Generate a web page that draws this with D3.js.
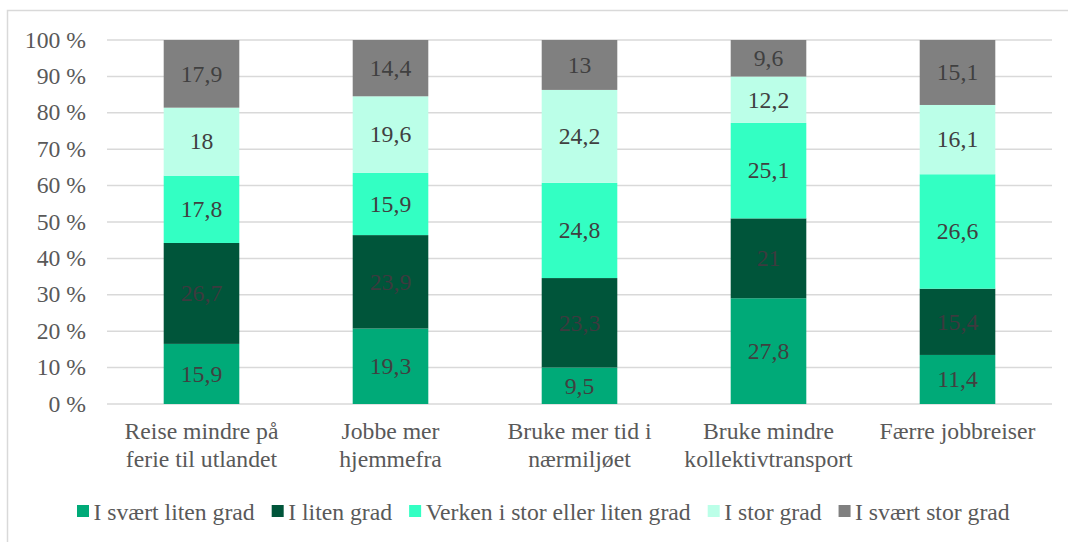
<!DOCTYPE html>
<meta charset="utf-8">
<script src="https://cdn.jsdelivr.net/npm/d3@7"></script>
<style>
body { margin: 0; background: #fff; }
</style>
<body>
<script>

// categories (two-line labels)
var categories = [
  ["Reise mindre på", "ferie til utlandet"],
  ["Jobbe mer", "hjemmefra"],
  ["Bruke mer tid i", "nærmiljøet"],
  ["Bruke mindre", "kollektivtransport"],
  ["Færre jobbreiser"]
];
var seriesNames = ["I svært liten grad", "I liten grad", "Verken i stor eller liten grad", "I stor grad", "I svært stor grad"];
var colors = ["#00aa78", "#00553a", "#33ffc3", "#bbffe8", "#808080"];
var labelColors = ["#404040", "#3d3a3f", "#404040", "#404040", "#404040"];

var sSvaertLiten = [15.9, 19.3, 9.5, 27.8, 11.4];
var sLiten = [26.7, 23.9, 23.3, 21, 15.4];
var sVerken = [17.8, 15.9, 24.8, 25.1, 26.6];
var sStor = [18, 19.6, 24.2, 12.2, 16.1];
var sSvaertStor = [17.9, 14.4, 13, 9.6, 15.1];
var yTicks = [0, 10, 20, 30, 40, 50, 60, 70, 80, 90, 100];

var seriesVals = [sSvaertLiten, sLiten, sVerken, sStor, sSvaertStor];

var width = 1068, height = 542;
var margin = {left: 107, right: 16, top: 40, bottom: 138};
var FONT = "Liberation Serif";
var FS = 23.7;

var svg = d3.select("body").append("svg")
    .attr("width", width)
    .attr("height", height)
    .attr("font-family", FONT);

// chart border
svg.append("rect")
    .attr("x", 7.5).attr("y", 10.5)
    .attr("width", 1080).attr("height", 560)
    .attr("fill", "none")
    .attr("stroke", "#d9d9d9")
    .attr("stroke-width", 1.5);

var rows = categories.map(function(c, i) {
  var row = {idx: i};
  var total = d3.sum(seriesVals, function(s) { return s[i]; });
  seriesVals.forEach(function(s, k) { row["s" + k] = s[i] / total * 100; row["v" + k] = s[i]; });
  return row;
});

var stack = d3.stack().keys(seriesNames.map(function(d, k) { return "s" + k; }));
var stacked = stack(rows);

var x = d3.scaleBand()
    .domain(d3.range(categories.length))
    .range([margin.left, width - margin.right])
    .paddingInner(0.6).paddingOuter(0.3);

var y = d3.scaleLinear()
    .domain([0, 100])
    .range([height - margin.bottom, margin.top]);

// gridlines
svg.append("g")
  .selectAll("line")
  .data(yTicks)
  .enter().append("line")
    .attr("x1", margin.left).attr("x2", width - margin.right)
    .attr("y1", function(d) { return y(d); })
    .attr("y2", function(d) { return y(d); })
    .attr("stroke", "#d9d9d9")
    .attr("stroke-width", 1.5);

// y axis labels
var yAxis = d3.axisLeft(y).tickValues(yTicks).tickSize(0).tickPadding(21)
    .tickFormat(function(d) { return d + " %"; });
var ya = svg.append("g").attr("transform", "translate(" + margin.left + ",0)").call(yAxis);
ya.attr("font-family", FONT).attr("font-size", FS);
ya.select(".domain").remove();
ya.selectAll("text")
    .attr("dy", "0.3em")
    .attr("fill", "#595959");

// bars
var layer = svg.append("g")
  .selectAll("g")
  .data(stacked)
  .enter().append("g")
    .attr("fill", function(d, k) { return colors[k]; });

layer.selectAll("rect")
  .data(function(d) { return d; })
  .enter().append("rect")
    .attr("x", function(d, i) { return x(i); })
    .attr("width", x.bandwidth())
    .attr("y", function(d) { return y(d[1]); })
    .attr("height", function(d) { return y(d[0]) - y(d[1]); });

// data labels
var fmt = function(v) { return String(v).replace(".", ","); };
stacked.forEach(function(ser, k) {
  svg.append("g").selectAll("text")
    .data(ser)
    .enter().append("text")
      .attr("x", function(d, i) { return x(i) + x.bandwidth() / 2; })
      .attr("y", function(d) { return (y(d[0]) + y(d[1])) / 2; })
      .attr("dy", "0.33em")
      .attr("text-anchor", "middle")
      .attr("font-family", FONT)
      .attr("font-size", FS)
      .attr("fill", labelColors[k])
      .text(function(d) { return fmt(d.data["v" + k]); });
});

// category labels
var xl = svg.append("g").selectAll("text")
  .data(categories)
  .enter().append("text")
    .attr("x", function(d, i) { return x(i) + x.bandwidth() / 2; })
    .attr("y", 439)
    .attr("text-anchor", "middle")
    .attr("font-family", FONT)
    .attr("font-size", FS)
    .attr("fill", "#595959");
xl.selectAll("tspan")
  .data(function(d) { return d; })
  .enter().append("tspan")
    .attr("x", function() { return this.parentNode.getAttribute("x"); })
    .attr("dy", function(d, j) { return j ? 28 : 0; })
    .text(function(d) { return d; });

// legend
var legend = svg.append("g");
var items = legend.selectAll("g")
  .data(seriesNames)
  .enter().append("g");
items.append("rect")
    .attr("width", 12).attr("height", 12)
    .attr("y", -15)
    .attr("fill", function(d, k) { return colors[k]; });
items.append("text")
    .attr("x", 16.5)
    .attr("font-family", FONT)
    .attr("font-size", FS)
    .attr("fill", "#595959")
    .text(function(d) { return d; });

var pos = 0, offs = [];
items.each(function() {
  offs.push(pos);
  pos += 16.5 + this.querySelector("text").getComputedTextLength() + 17;
});
items.attr("transform", function(d, k) { return "translate(" + (77 + offs[k]) + ",520)"; });

</script>
</body>
